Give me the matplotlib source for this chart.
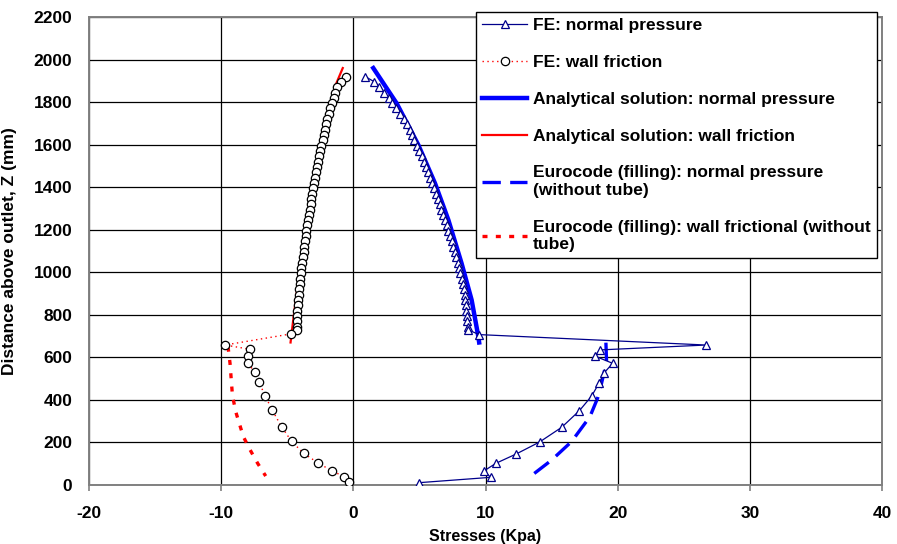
import matplotlib
matplotlib.use("Agg")
import matplotlib.pyplot as plt

plt.rcParams['font.family'] = ['Liberation Sans', 'DejaVu Sans']
plt.rcParams['font.weight'] = 'bold'
plt.rcParams['axes.unicode_minus'] = False

# ---- data ----
z_fe_upper = [1920, 1895, 1870, 1845, 1820, 1795, 1770, 1745, 1720, 1695, 1670, 1645,
              1620, 1595, 1570, 1545, 1520, 1495, 1470, 1445, 1420, 1395, 1370, 1345,
              1320, 1295, 1270, 1245, 1220, 1195, 1170, 1145, 1120, 1095, 1070, 1045,
              1020, 995, 970, 945, 920, 895, 870, 845, 820, 795, 770, 745, 730]
fe_normal_upper = [0.9, 1.6, 1.95, 2.3, 2.7, 2.95, 3.25, 3.55, 3.85, 4.05, 4.25, 4.45,
                   4.6, 4.8, 4.98, 5.17, 5.33, 5.48, 5.64, 5.8, 5.95, 6.1, 6.25, 6.4,
                   6.54, 6.67, 6.8, 6.93, 7.06, 7.2, 7.33, 7.46, 7.57, 7.68, 7.79, 7.9,
                   8.0, 8.1, 8.2, 8.28, 8.36, 8.43, 8.48, 8.52, 8.56, 8.59, 8.62, 8.64, 8.66]
fe_friction_upper = [-0.55, -0.9, -1.2, -1.35, -1.48, -1.6, -1.73, -1.86, -1.96, -2.05, -2.15, -2.24,
                     -2.33, -2.42, -2.5, -2.59, -2.68, -2.77, -2.85, -2.93, -3.0, -3.05, -3.12, -3.18,
                     -3.24, -3.31, -3.38, -3.44, -3.5, -3.55, -3.61, -3.66, -3.71, -3.77, -3.82, -3.88,
                     -3.93, -3.98, -4.02, -4.06, -4.09, -4.12, -4.16, -4.2, -4.23, -4.25, -4.27, -4.28, -4.29]

z_fe_normal_lower = [707, 658, 635, 606, 572, 528, 481, 418, 349, 271, 202, 146, 102, 66, 36, 11]
fe_normal_lower = [9.53, 26.7, 18.66, 18.28, 19.62, 18.99, 18.61, 18.03, 17.1, 15.76, 14.09,
                   12.33, 10.79, 9.88, 10.39, 4.99]

z_fe_friction_lower = [710, 658, 638, 608, 572, 530, 483, 420, 351, 273, 205, 149, 103, 67, 39, 13]
fe_friction_lower = [-4.74, -9.71, -7.81, -7.94, -7.99, -7.44, -7.13, -6.68, -6.13, -5.42,
                     -4.67, -3.76, -2.65, -1.64, -0.68, -0.33]

z_an_normal = [1960, 1794, 1598, 1418, 1246, 1042, 870, 697, 670]
an_normal = [1.51, 3.28, 4.92, 6.18, 7.19, 8.19, 8.95, 9.46, 9.52]

z_an_friction = [1960, 1873, 1700, 1528, 1350, 1183, 1040, 901, 800, 713, 670]
an_friction = [-0.8, -1.39, -2.05, -2.65, -3.18, -3.65, -4.0, -4.29, -4.5, -4.67, -4.75]

z_ec_normal = [669, 580, 478, 408, 321, 204, 117, 39]
ec_normal = [19.11, 19.16, 18.78, 18.48, 17.9, 16.51, 15.0, 13.37]

z_ec_friction = [650, 572, 423, 345, 227, 165, 102, 42]
ec_friction = [-9.48, -9.33, -9.15, -8.9, -8.32, -7.81, -7.24, -6.63]

x_ticks = [-20, -10, 0, 10, 20, 30, 40]
y_ticks = list(range(0, 2201, 200))

# ---- figure ----
fig = plt.figure(figsize=(8.97, 5.44), dpi=100)
ax = fig.add_axes([89/897, 1 - 485/544, (882 - 89)/897, (485 - 17)/544])

navy = '#00008B'
ax.plot(fe_normal_upper + fe_normal_lower, z_fe_upper + z_fe_normal_lower,
        color=navy, lw=0.9, marker='^', ms=5.5, mfc='white', mec=navy, mew=0.9,
        label='FE: normal pressure', zorder=4)
ax.plot(fe_friction_upper + fe_friction_lower, z_fe_upper + z_fe_friction_lower,
        color='red', lw=1.0, ls=(0, (1, 2.5)), marker='o', ms=6, mfc='white', mec='black',
        mew=0.9, label='FE: wall friction', zorder=4)
ax.plot(an_normal, z_an_normal, color='#0000FF', lw=3.2,
        label='Analytical solution: normal pressure', zorder=3)
ax.plot(an_friction, z_an_friction, color='red', lw=1.6,
        label='Analytical solution: wall friction', zorder=3)
ax.plot(ec_normal, z_ec_normal, color='#0000FF', lw=2.4, ls=(0, (5.5, 2.8)),
        label='Eurocode (filling): normal pressure\n(without tube)', zorder=3)
ax.plot(ec_friction, z_ec_friction, color='red', lw=2.4, ls=(0, (1.5, 2.5)),
        label='Eurocode (filling): wall frictional (without\ntube)', zorder=3)

ax.set_xlim(-20, 40)
ax.set_ylim(0, 2200)
ax.set_xticks(x_ticks)
ax.set_yticks(y_ticks)
ax.grid(True, color='black', lw=0.9)
ax.set_axisbelow(True)
for s in ['top', 'right', 'left', 'bottom']:
    ax.spines[s].set_color('#808080')
    ax.spines[s].set_linewidth(1.4)
ax.tick_params(axis='both', labelsize=12.5, length=4, direction='out', color='#808080', width=1.2)
ax.tick_params(axis='y', length=0, pad=12)
ax.tick_params(axis='x', pad=11)
for lab in ax.get_xticklabels() + ax.get_yticklabels():
    lab.set_fontweight('bold')
ax.set_xlabel('Stresses (Kpa)', fontsize=11.5, fontweight='bold', labelpad=6)
ax.set_ylabel('Distance above outlet, Z (mm)', fontsize=12.5, fontweight='bold', labelpad=12)

leg = ax.legend(loc='upper right', bbox_to_anchor=(877/897, 1 - 12/544),
                bbox_transform=fig.transFigure, borderaxespad=0,
                prop={'weight': 'bold', 'size': 12.5}, frameon=True, fancybox=False,
                edgecolor='black', framealpha=1, handlelength=2.6, handletextpad=0.35,
                labelspacing=1.25, borderpad=0.35)
leg.get_frame().set_linewidth(1.0)

fig.savefig('out.png', dpi=100)
